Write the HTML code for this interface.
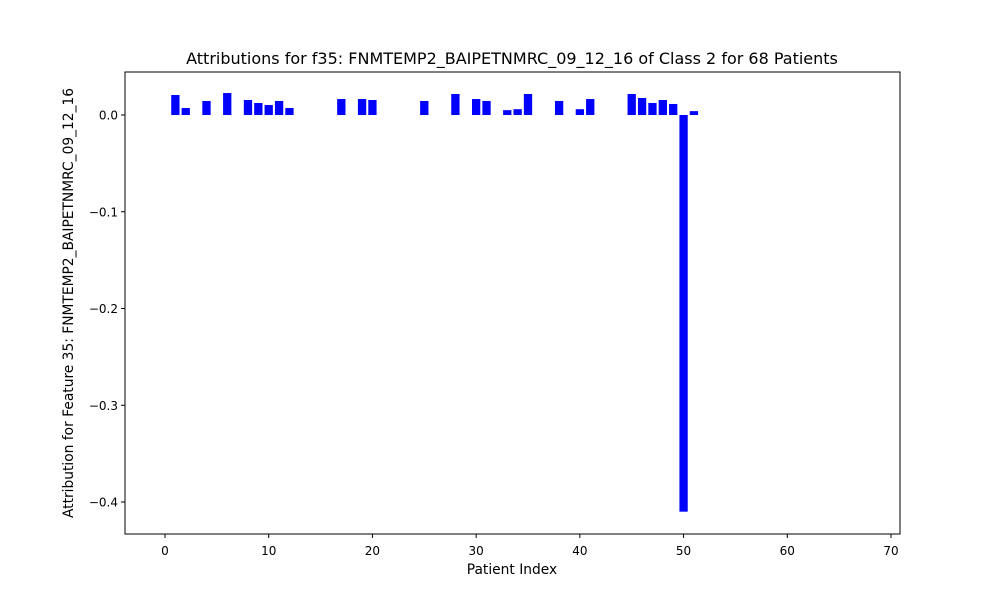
<!DOCTYPE html>
<html><head><meta charset="utf-8"><style>
body{margin:0;background:#fff;font-family:"Liberation Sans","DejaVu Sans",sans-serif}
</style></head><body>
<svg id="chart" width="1000" height="600" font-family="DejaVu Sans, Liberation Sans, sans-serif"></svg>
<script>
const patientIndex = Array.from({length:68},(_,i)=>i);
const attributionValues = [0,0.0207,0.0072,0,0.0145,0,0.0227,0,0.0155,0.0124,0.0103,0.0145,0.0072,0,0,0,0,0.0165,0,0.0165,0.0155,0,0,0,0,0.0145,0,0,0.0217,0,0.0165,0.0145,0,0.005,0.006,0.0217,0,0,0.0145,0,0.006,0.0165,0,0,0,0.0217,0.0176,0.0124,0.0155,0.0114,-0.410,0.004,0,0,0,0,0,0,0,0,0,0,0,0,0,0,0,0];
const xTicks = [0,10,20,30,40,50,60,70];
const yTicks = [0.0,-0.1,-0.2,-0.3,-0.4];
const yTickLabels = ["0.0","−0.1","−0.2","−0.3","−0.4"];
const NS='http://www.w3.org/2000/svg';
const svg=document.getElementById('chart');
const L=125,R=900,T=72,B=534;
const xs=v=>165+(v-0)*(891-165)/70;
const ys=v=>115+(0-v)*(502-115)/0.4;
function mk(tag,attrs,parent){const e=document.createElementNS(NS,tag);for(const k in attrs)e.setAttribute(k,attrs[k]);(parent||svg).appendChild(e);return e;}
const bars=mk('g',{});


patientIndex.forEach((p,i)=>{const v=attributionValues[i];if(!v)return;
const w=xs(0.8)-xs(0);
const r=mk('rect',{x:xs(p-0.4),y:Math.min(ys(v),ys(0)),width:w,height:Math.abs(ys(v)-ys(0)),fill:'#0000ff'},bars);

});
const frame=mk('rect',{x:L,y:T,width:R-L,height:B-T,fill:'none',stroke:'#000','stroke-width':1});


xTicks.forEach(t=>{const x=xs(t);mk('line',{x1:x,x2:x,y1:B,y2:B+4,stroke:'#000'});
const tx=mk('text',{x:x,y:B+21,'text-anchor':'middle','font-size':12});tx.textContent=t;

});
yTicks.forEach((t,i)=>{const y=ys(t);mk('line',{x1:L-4,x2:L,y1:y,y2:y,stroke:'#000'});
const tx=mk('text',{x:L-7,y:y+4.5,'text-anchor':'end','font-size':12});tx.textContent=yTickLabels[i];

});
const title=mk('text',{x:512,y:64,'text-anchor':'middle','font-size':16});title.textContent='Attributions for f35: FNMTEMP2_BAIPETNMRC_09_12_16 of Class 2 for 68 Patients';


const xt=mk('text',{x:512,y:574,'text-anchor':'middle','font-size':13.8});xt.textContent='Patient Index';


const yt=mk('text',{x:0,y:0,'text-anchor':'middle','font-size':13.8,transform:'translate(73,303) rotate(-90)'});yt.textContent='Attribution for Feature 35: FNMTEMP2_BAIPETNMRC_09_12_16';


</script>
</body></html>
